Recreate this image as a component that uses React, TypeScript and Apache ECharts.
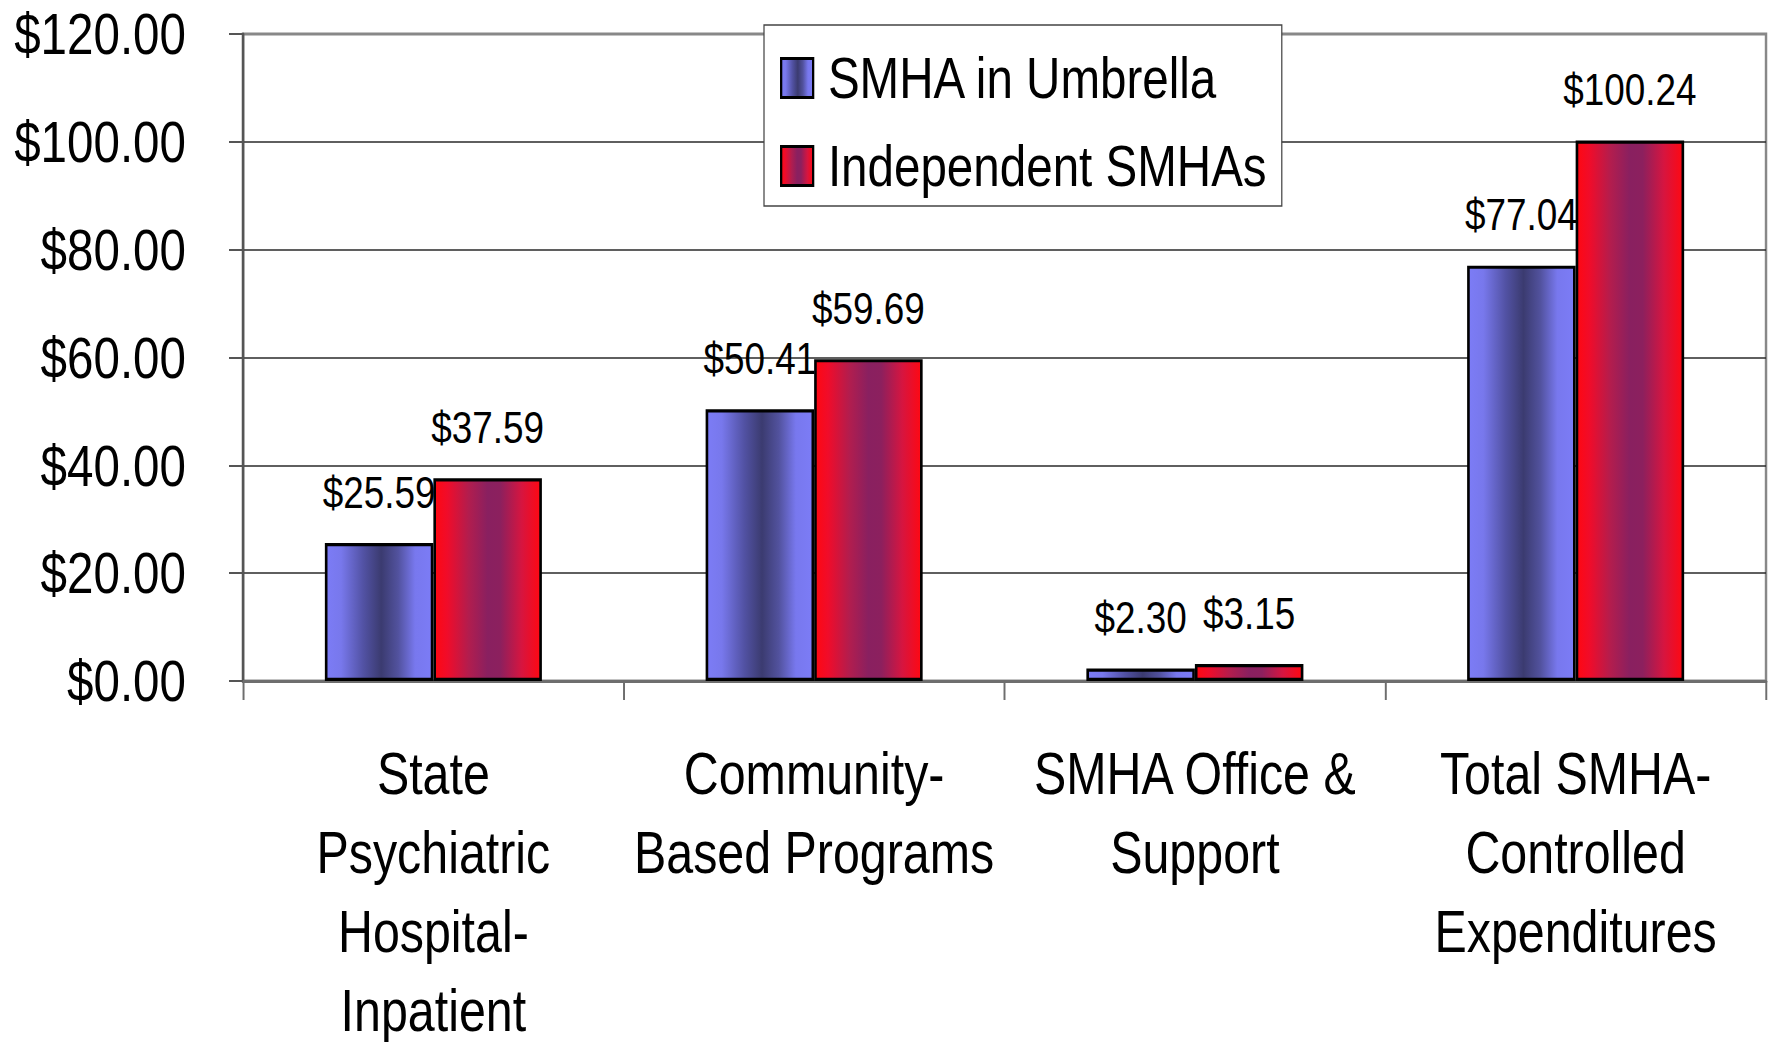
import React, { useEffect, useRef } from "react";
import * as echarts from "echarts";

const categories = [
  "State\nPsychiatric\nHospital-\nInpatient",
  "Community-\nBased Programs",
  "SMHA Office &\nSupport",
  "Total SMHA-\nControlled\nExpenditures",
];
const umbrellaValues = [25.59, 50.41, 2.3, 77.04];
const independentValues = [37.59, 59.69, 3.15, 100.24];
const seriesNames = ["SMHA in Umbrella", "Independent SMHAs"];

const FONT = "'Liberation Sans', Arial, sans-serif";
// horizontal condensing factor (reference text is a narrow face)
const S = 0.82;
const W = 1772;
const H = 1042;
const hx = (v: number) => v / S;

const blueGrad = new echarts.graphic.LinearGradient(0, 0, 1, 0, [
  { offset: 0, color: "#7c7cf6" },
  { offset: 0.14, color: "#7878ec" },
  { offset: 0.35, color: "#5252a4" },
  { offset: 0.52, color: "#3b3b70" },
  { offset: 0.68, color: "#52529e" },
  { offset: 0.84, color: "#7878ee" },
  { offset: 1, color: "#7c7cf6" },
]);
const redGrad = new echarts.graphic.LinearGradient(0, 0, 1, 0, [
  { offset: 0, color: "#ff0812" },
  { offset: 0.12, color: "#f00c2a" },
  { offset: 0.32, color: "#b21d4e" },
  { offset: 0.5, color: "#892060" },
  { offset: 0.62, color: "#8c205e" },
  { offset: 0.82, color: "#d61540" },
  { offset: 1, color: "#ff0812" },
]);

export default function App() {
  const ref = useRef<HTMLDivElement>(null);
  useEffect(() => {
    if (!ref.current) return;
    const chart = echarts.init(ref.current, null, { renderer: "svg" });
    const labelCfg = {
      show: true,
      position: "top",
      distance: 28,
      fontSize: 45,
      fontFamily: FONT,
      color: "#000",
      formatter: (p: any) => "$" + Number(p.value).toFixed(2),
    };
    chart.setOption({
      animation: false,
      backgroundColor: "#fff",
      textStyle: { fontFamily: FONT },
      grid: {
        left: hx(243),
        right: hx(6),
        top: 34,
        bottom: 361,
        outerBoundsMode: "none",
        containLabel: false,
        show: true,
        borderColor: "#888",
        borderWidth: 3,
        backgroundColor: "transparent",
      },
      legend: {
        orient: "vertical",
        left: hx(764),
        top: 25,
        padding: [24, hx(15), 11, hx(16)],
        itemGap: 30,
        itemWidth: hx(32),
        itemHeight: 39,
        backgroundColor: "#fff",
        borderColor: "#444",
        borderWidth: 1.5,
        borderRadius: 0,
        itemStyle: { borderColor: "#000", borderWidth: 2.8 },
        textStyle: { fontSize: 58, fontFamily: FONT, color: "#000", lineHeight: 52, padding: [0, 0, 0, 13] },
        data: seriesNames.map((n) => ({ name: n, icon: "rect" })),
      },
      xAxis: {
        type: "category",
        data: categories,
        axisLine: { show: true, lineStyle: { color: "#6e6e6e", width: 3 } },
        axisTick: { show: true, length: 19, lineStyle: { color: "#6e6e6e", width: 2.4 } },
        axisLabel: {
          fontSize: 59,
          lineHeight: 79,
          fontFamily: FONT,
          color: "#000",
          margin: 53,
          interval: 0,
          align: "center",
        },
      },
      yAxis: {
        type: "value",
        min: 0,
        max: 120,
        interval: 20,
        axisLine: { show: true, lineStyle: { color: "#555", width: 3 } },
        axisTick: { show: true, length: hx(14), lineStyle: { color: "#555", width: 2 } },
        axisLabel: {
          fontSize: 58,
          fontFamily: FONT,
          color: "#000",
          margin: hx(57),
          formatter: (v: number) => "$" + v.toFixed(2),
        },
        splitLine: { show: true, showMaxLine: false, lineStyle: { color: "#2a2a2a", width: 1.5 } },
      },
      series: [
        {
          name: seriesNames[0],
          type: "bar",
          data: umbrellaValues,
          barGap: "0%",
          barCategoryGap: "43%",
          itemStyle: { color: blueGrad, borderColor: "#000", borderWidth: 3.2 },
          label: labelCfg,
        },
        {
          name: seriesNames[1],
          type: "bar",
          data: independentValues,
          barGap: "0%",
          barCategoryGap: "43%",
          itemStyle: { color: redGrad, borderColor: "#000", borderWidth: 3.2 },
          label: labelCfg,
        },
      ],
    });
    return () => chart.dispose();
  }, []);
  return (
    <div
      ref={ref}
      style={{
        position: "absolute",
        left: 0,
        top: 0,
        width: W / S,
        height: H,
        transform: `scaleX(${S})`,
        transformOrigin: "0 0",
      }}
    />
  );
}
